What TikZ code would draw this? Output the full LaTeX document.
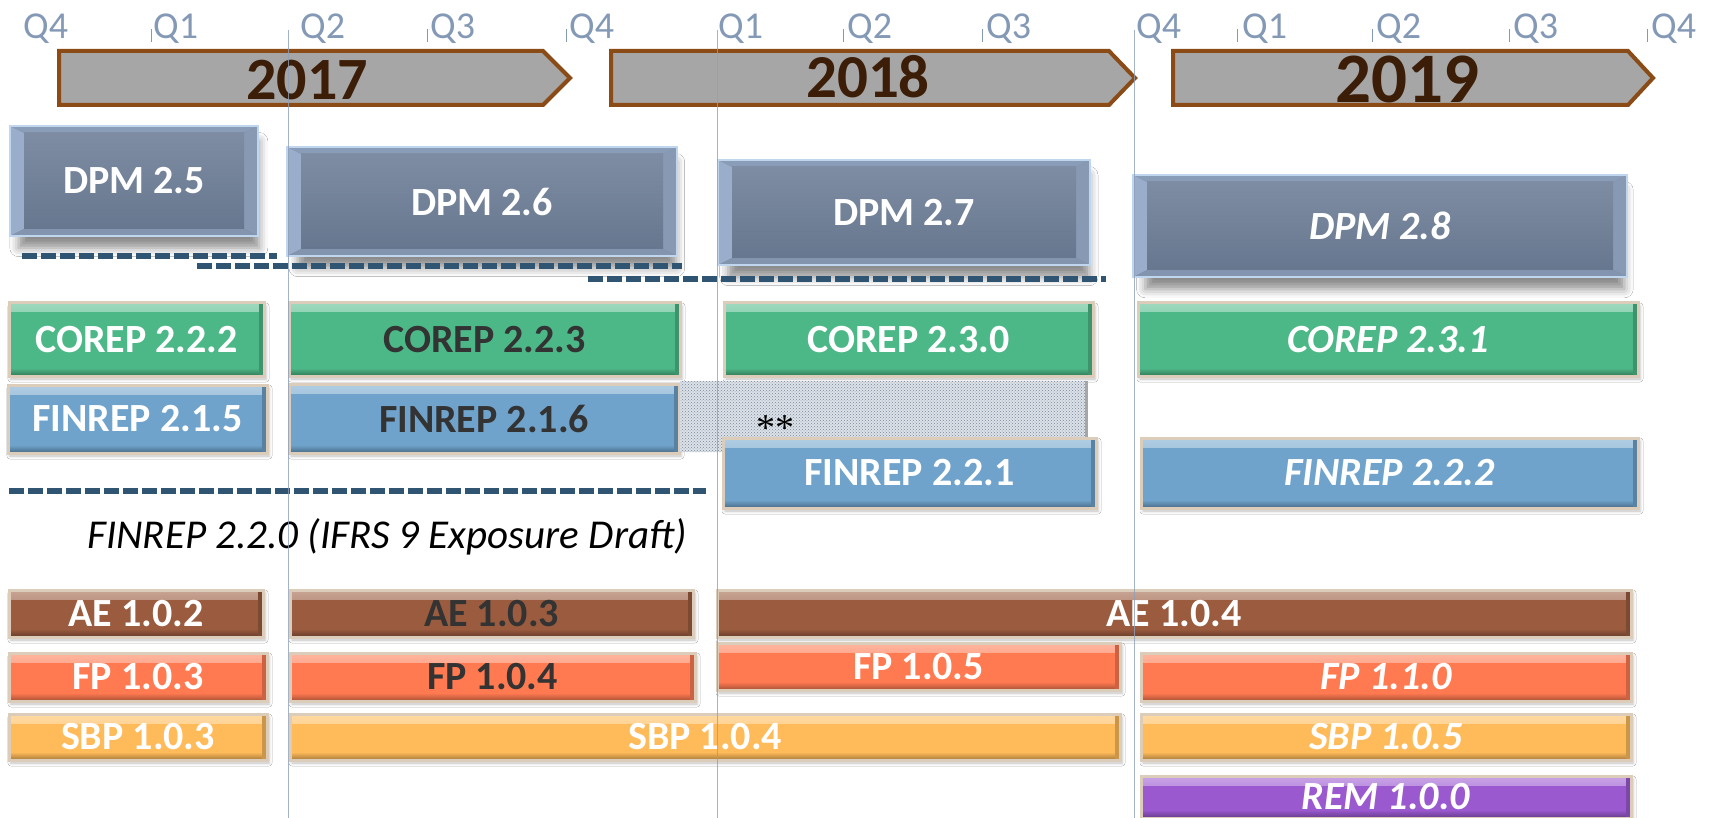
\documentclass[tikz,border=0pt]{standalone}
\usepackage{fontspec}
\setmainfont{Carlito}
\newfontfamily\starfont{Liberation Serif}
\usetikzlibrary{calc,shadows.blur,patterns}

\definecolor{qblue}{HTML}{8499B6}
\definecolor{vline}{HTML}{8EA0BA}
\definecolor{arrfill}{HTML}{A6A6A6}
\definecolor{arrdraw}{HTML}{8A4B16}
\definecolor{yeartxt}{HTML}{3C1E08}
\definecolor{dashc}{HTML}{2F5572}
\definecolor{dpmface}{HTML}{6C7D96}
\definecolor{dpmrim}{HTML}{BFD6EE}
\definecolor{bevl}{HTML}{9AAECB}
\definecolor{bevt}{HTML}{8A9DB8}
\definecolor{bevr}{HTML}{8799B3}
\definecolor{bevb}{HTML}{8294AE}
\definecolor{corepc}{HTML}{4DB887}
\definecolor{finrepc}{HTML}{6FA3CB}
\definecolor{aec}{HTML}{9B5B3F}
\definecolor{fpc}{HTML}{FF7A51}
\definecolor{sbpc}{HTML}{FFBB5A}
\definecolor{remc}{HTML}{9B59D0}
\definecolor{rimc}{HTML}{DCCDBA}
\definecolor{darktxt}{HTML}{333333}
\definecolor{dotc}{HTML}{76869A}
\definecolor{dotbg}{HTML}{DCE2E8}

\newcommand\myBar{\fontsize{40}{44}\selectfont\bfseries}
\newcommand\myBarIt{\fontsize{40}{44}\selectfont\bfseries\itshape}
\newcommand\myQ{\fontsize{38}{40}\selectfont}

\begin{document}
\begin{tikzpicture}[x=1pt,y=-1pt,
  qlab/.style={anchor=base west, font=\myQ, text=qblue, inner sep=0pt},
  qtick/.style={draw=qblue, line width=0.8pt},
  vl/.style={draw=vline, line width=1pt, opacity=0.8},
  yeararrow/.style={fill=arrfill, draw=arrdraw, line width=4pt, line join=miter},
  yearlab/.style={anchor=base, text=yeartxt, inner sep=0pt},
  dashl/.style={draw=dashc, line width=5.5pt, dash pattern=on 15pt off 4pt},
  dpmbox/.style={inner sep=0pt, outer sep=0pt, draw=dpmrim, line width=1.5pt,
    fill=dpmface, font=\myBar, text=white,
    blur shadow={shadow xshift=5pt, shadow yshift=-14pt, shadow scale=0.97, shadow blur radius=9pt, shadow opacity=45},
    path picture={
      \coordinate (bnw) at (path picture bounding box.north west);
      \coordinate (bne) at (path picture bounding box.north east);
      \coordinate (bsw) at (path picture bounding box.south west);
      \coordinate (bse) at (path picture bounding box.south east);
      \fill[bevl] (bnw) -- (bsw) -- ($(bsw)+(14,-7)$) -- ($(bnw)+(14,7)$) -- cycle;
      \fill[bevt] (bnw) -- (bne) -- ($(bne)+(-14,7)$) -- ($(bnw)+(14,7)$) -- cycle;
      \fill[bevr] (bne) -- (bse) -- ($(bse)+(-14,-7)$) -- ($(bne)+(-14,7)$) -- cycle;
      \fill[bevb] (bsw) -- (bse) -- ($(bse)+(-14,-7)$) -- ($(bsw)+(14,-7)$) -- cycle;
      \shade[top color=dpmface!88!white, bottom color=dpmface!95!black] ($(bnw)+(14,7)$) rectangle ($(bse)+(-14,-7)$);
    }},
  bar/.style={inner sep=0pt, outer sep=0pt, draw=rimc, line width=3pt, fill=#1,
    font=\myBar, text=white,
    blur shadow={shadow xshift=2pt, shadow yshift=-3pt, shadow blur radius=3pt, shadow opacity=25},
    path picture={
      \shade[top color=#1!55!white, bottom color=#1] (path picture bounding box.north west) rectangle ($(path picture bounding box.north east)+(0,9)$);
      \shade[top color=#1, bottom color=#1!65!black] ($(path picture bounding box.south west)+(0,-8)$) rectangle (path picture bounding box.south east);
      \fill[#1!80!black] ($(path picture bounding box.north east)+(-5,0)$) rectangle (path picture bounding box.south east);
    }},
  txtd/.style={text=darktxt},
  ital/.style={font=\myBarIt}
]
\useasboundingbox (0,0) rectangle (1711,818);
\fill[white] (0,0) rectangle (1711,818);

% quarter labels
\node[qlab] (q0) at (23,39) {Q4};
\node[qlab] (q1) at (153,39) {Q1};
\node[qlab] (q2) at (300,39) {Q2};
\node[qlab] (q3) at (430,39) {Q3};
\node[qlab] (q4) at (569,39) {Q4};
\node[qlab] (q5) at (718,39) {Q1};
\node[qlab] (q6) at (847,39) {Q2};
\node[qlab] (q7) at (986,39) {Q3};
\node[qlab] (q8) at (1136,39) {Q4};
\node[qlab] (q9) at (1242,39) {Q1};
\node[qlab] (q10) at (1376,39) {Q2};
\node[qlab] (q11) at (1513,39) {Q3};
\node[qlab] (q12) at (1651,39) {Q4};
\foreach \x in {151,427,566,843,982,1237,1372,1509,1647}
  \draw[qtick] (\x,29) -- (\x,42);

% year arrows
\draw[yeararrow] (59,51) -- (543,51) -- (570,78) -- (543,105) -- (59,105) -- cycle;
\draw[yeararrow] (611,51) -- (1109,51) -- (1135,78) -- (1109,105) -- (611,105) -- cycle;
\draw[yeararrow] (1173,51) -- (1628,51) -- (1653,78) -- (1628,105) -- (1173,105) -- cycle;
\node[yearlab, font=\fontsize{60}{60}\selectfont\bfseries] (y2017) at (307,100) {2017};
\node[yearlab, font=\fontsize{61}{61}\selectfont\bfseries] (y2018) at (868,98) {2018};
\node[yearlab, font=\fontsize{71}{71}\selectfont\bfseries] (y2019) at (1407,103) {2019};

% DPM boxes
\node[dpmbox, minimum width=248pt, minimum height=110pt] (dpm25) at (134,181) {DPM 2.5};
\node[dpmbox, minimum width=390pt, minimum height=109pt] (dpm26) at (482,201.5) {DPM 2.6};
\node[dpmbox, minimum width=372pt, minimum height=105pt] (dpm27) at (904,212.5) {DPM 2.7};
\node[dpmbox, minimum width=494pt, minimum height=102pt, ital] (dpm28) at (1380,226) {DPM 2.8};

% dashed lines
\draw[dashl] (22,256) -- (277,256);
\draw[dashl] (197,266) -- (682,266);
\draw[dashl] (588,279) -- (1106,279);
\draw[dashl] (9,491) -- (706,491);

% COREP
\node[bar=corepc, minimum width=255pt, minimum height=73pt] (c222) at (136.5,339.5) {COREP 2.2.2};
\node[bar=corepc, minimum width=391pt, minimum height=73pt, txtd] (c223) at (484.5,339.5) {COREP 2.2.3};
\node[bar=corepc, minimum width=369pt, minimum height=73pt] (c230) at (908.5,339.5) {COREP 2.3.0};
\node[bar=corepc, minimum width=500pt, minimum height=73pt, ital] (c231) at (1388,339.5) {COREP 2.3.1};

% FINREP
\node[bar=finrepc, minimum width=259pt, minimum height=68pt] (f215) at (137.5,419) {FINREP 2.1.5};
\node[bar=finrepc, minimum width=390pt, minimum height=69pt, txtd] (f216) at (484,418.5) {FINREP 2.1.6};
\node[inner sep=0pt, outer sep=0pt, minimum width=406pt, minimum height=71pt,
      preaction={fill=dotbg}, pattern=crosshatch dots, pattern color=dotc] (dots) at (883,416.5) {};
\draw[gray!70, line width=3pt] (dots.north east) -- (dots.south east);
\node[font=\starfont\fontsize{38}{38}\selectfont, inner sep=0pt] (stars) at (775,428) {**};
\node[bar=finrepc, minimum width=373pt, minimum height=70pt] (f221) at (909.5,473) {FINREP 2.2.1};
\node[bar=finrepc, minimum width=497pt, minimum height=70pt, ital] (f222) at (1389.5,473) {FINREP 2.2.2};

\node[anchor=base west, font=\fontsize{41}{44}\selectfont\itshape, inner sep=0pt] (draft) at (87,548) {FINREP 2.2.0 (IFRS 9 Exposure Draft)};

% AE
\node[bar=aec, minimum width=254pt, minimum height=47pt] (ae102) at (136,613.5) {AE 1.0.2};
\node[bar=aec, minimum width=403pt, minimum height=47pt, txtd] (ae103) at (491.5,613.5) {AE 1.0.3};
\node[bar=aec, minimum width=914pt, minimum height=47pt] (ae104) at (1174,613.5) {AE 1.0.4};

% FP
\node[bar=fpc, minimum width=258pt, minimum height=48pt] (fp103) at (138,677) {FP 1.0.3};
\node[bar=fpc, minimum width=405pt, minimum height=48pt, txtd] (fp104) at (492.5,677) {FP 1.0.4};
\node[bar=fpc, minimum width=403pt, minimum height=47pt] (fp105) at (918.5,666.5) {FP 1.0.5};
\node[bar=fpc, minimum width=490pt, minimum height=48pt, ital] (fp110) at (1386,677) {FP 1.1.0};

% SBP
\node[bar=sbpc, minimum width=258pt, minimum height=46pt] (sbp103) at (138,737) {SBP 1.0.3};
\node[bar=sbpc, minimum width=830pt, minimum height=46pt] (sbp104) at (705,737) {SBP 1.0.4};
\node[bar=sbpc, minimum width=490pt, minimum height=46pt, ital] (sbp105) at (1386,737) {SBP 1.0.5};

% REM
\node[bar=remc, minimum width=490pt, minimum height=42pt, ital] (rem100) at (1386,797) {REM 1.0.0};

% vertical quarter lines
\draw[vl] (288,30) -- (288,818);
\draw[vl] (717,30) -- (717,818);
\draw[vl] (1134,30) -- (1134,818);
\end{tikzpicture}
\end{document}
